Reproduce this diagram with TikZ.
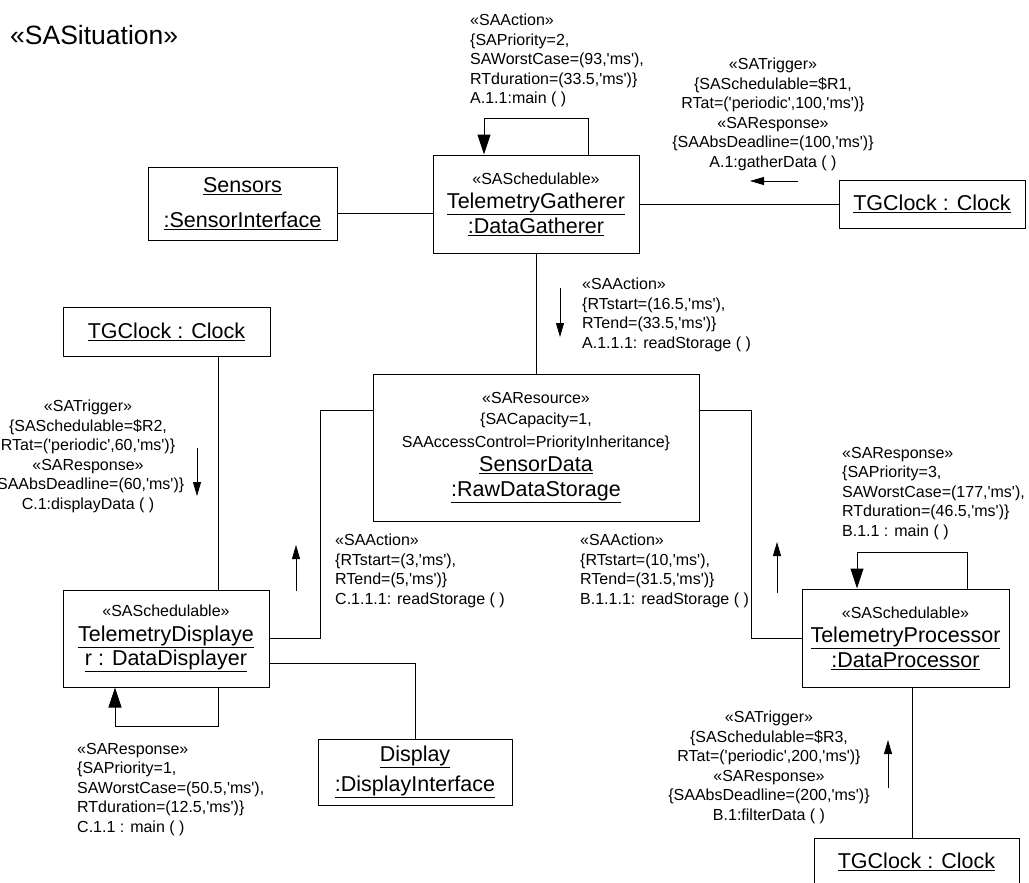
\documentclass[tikz,border=0pt]{standalone}
\usepackage{fontspec}
\setmainfont{Liberation Sans}[Ligatures=TeXOff]
\usepackage{tikz}
\usetikzlibrary{arrows.meta}
\newcommand\smallfnt{\fontsize{16}{19.5}\selectfont}
\newcommand\objfnt{\fontsize{21.5}{24.5}\selectfont}
\tikzset{obj/.style={draw,line width=1pt,inner sep=0pt,align=center,font=\objfnt},
  note/.style={inner sep=0pt,font=\smallfnt},
  link/.style={line width=0.8pt},
  msg/.style={line width=0.8pt,-{Triangle[length=14pt,width=8pt]}},
  selfloop/.style={line width=1pt,-{Triangle[length=20pt,width=13pt]}}}

\begin{document}
\begin{tikzpicture}[x=1pt,y=-1pt]
\useasboundingbox (0,0) rectangle (1029,883);
\node[anchor=west,inner sep=0pt,font=\fontsize{26.5}{30}\selectfont] (sit) at (10,35) {«SASituation»};

% objects
\node[obj,minimum width=206pt,minimum height=98pt] (tg) at (536,204) {{\smallfnt «SASchedulable»}\\\underline{TelemetryGatherer}\\\underline{:DataGatherer}};
\node[obj,minimum width=189pt,minimum height=73pt] (sens) at (242.5,203.5) {\underline{Sensors}\\[10pt]\underline{:SensorInterface}};
\node[obj,minimum width=186pt,minimum height=48pt] (clkA) at (932,204) {\underline{TGClock : Clock}};
\node[obj,minimum width=326pt,minimum height=147pt] (sd) at (536,447.5) {{\smallfnt «SAResource»}\\[-3pt]{\smallfnt \{SACapacity=1,}\\[-2pt]{\smallfnt SAAccessControl=PriorityInheritance\}}\\\underline{SensorData}\\\underline{:RawDataStorage}};
\node[obj,minimum width=207pt,minimum height=49pt] (clkC) at (166.5,331.5) {\underline{TGClock : Clock}};
\node[obj,minimum width=206pt,minimum height=97pt] (td) at (166,638.5) {{\smallfnt «SASchedulable»}\\\underline{TelemetryDisplaye}\\\underline{r : DataDisplayer}};
\node[obj,minimum width=207pt,minimum height=98pt] (tp) at (905.5,638) {{\smallfnt «SASchedulable»}\\\underline{TelemetryProcessor}\\\underline{:DataProcessor}};
\node[obj,minimum width=194pt,minimum height=66pt] (disp) at (415,772) {\underline{Display}\\[6pt]\underline{:DisplayInterface}};
\node[obj,minimum width=205pt,minimum height=48pt] (clkB) at (916.5,862) {\underline{TGClock : Clock}};

% links
\draw[link] ([yshift=-9.5pt]sens.east) -- ([yshift=-9.5pt]sens.east -| tg.west);
\draw[link] (tg.east) -- (clkA.west);
\draw[link] (tg.south) -- (sd.north);
\draw[link] ([yshift=37.5pt]sd.west) -- ++(-52,0) |- (td.east);
\draw[link] ([yshift=37.5pt]sd.east) -- ++(52,0) |- (tp.west);
\draw[link] ([yshift=-24.5pt]td.east) -| (disp.north);
\draw[link] ([xshift=52pt]clkC.south) -- ([xshift=52pt]clkC.south |- td.north);
\draw[link] ([xshift=6.5pt]tp.south) -- ([xshift=6.5pt]tp.south |- clkB.north);

% self calls
\draw[selfloop] ([xshift=52pt]tg.north) -- ++(0,-36) -| ([xshift=-52pt]tg.north);
\draw[selfloop] ([xshift=61.5pt]tp.north) -- ++(0,-36) -| ([xshift=-48.5pt]tp.north);
\draw[selfloop] ([xshift=52pt]td.south) -- ++(0,39) -| ([xshift=-51pt]td.south);

% messages
\draw[msg] (798,181) -- (750,181);
\draw[msg] (560,288) -- (560,337);
\draw[msg] (197,448) -- (197,496);
\draw[msg] (296,591) -- (296,545);
\draw[msg] (777,593) -- (777,542);
\draw[msg] (888,788) -- (888,740);

\node[note,anchor=north west,align=left] (actTG) at (470,14) {«SAAction»\\\{SAPriority=2,\\SAWorstCase=(93,'ms'),\\RTduration=(33.5,'ms')\}\\A.1.1:main ( )};
\node[note,anchor=north,align=center] (trigA) at (773,58) {«SATrigger»\\\{SASchedulable=\$R1,\\RTat=('periodic',100,'ms')\}\\«SAResponse»\\\{SAAbsDeadline=(100,'ms')\}\\A.1:gatherData ( )};
\node[note,anchor=north west,align=left] (actA) at (582,278) {«SAAction»\\\{RTstart=(16.5,'ms'),\\RTend=(33.5,'ms')\}\\A.1.1.1: readStorage ( )};
\node[note,anchor=north,align=center] (trigC) at (88,400) {«SATrigger»\\\{SASchedulable=\$R2,\\RTat=('periodic',60,'ms')\}\\«SAResponse»\\\{SAAbsDeadline=(60,'ms')\}\\C.1:displayData ( )};
\node[note,anchor=north west,align=left] (actC) at (335,534) {«SAAction»\\\{RTstart=(3,'ms'),\\RTend=(5,'ms')\}\\C.1.1.1: readStorage ( )};
\node[note,anchor=north west,align=left] (actB) at (580,534) {«SAAction»\\\{RTstart=(10,'ms'),\\RTend=(31.5,'ms')\}\\B.1.1.1: readStorage ( )};
\node[note,anchor=north west,align=left] (respB) at (842,447) {«SAResponse»\\\{SAPriority=3,\\SAWorstCase=(177,'ms'),\\RTduration=(46.5,'ms')\}\\B.1.1 : main ( )};
\node[note,anchor=north west,align=left] (respC) at (77,743) {«SAResponse»\\\{SAPriority=1,\\SAWorstCase=(50.5,'ms'),\\RTduration=(12.5,'ms')\}\\C.1.1 : main ( )};
\node[note,anchor=north,align=center] (trigB) at (769,711) {«SATrigger»\\\{SASchedulable=\$R3,\\RTat=('periodic',200,'ms')\}\\«SAResponse»\\\{SAAbsDeadline=(200,'ms')\}\\B.1:filterData ( )};
\end{tikzpicture}
\end{document}
